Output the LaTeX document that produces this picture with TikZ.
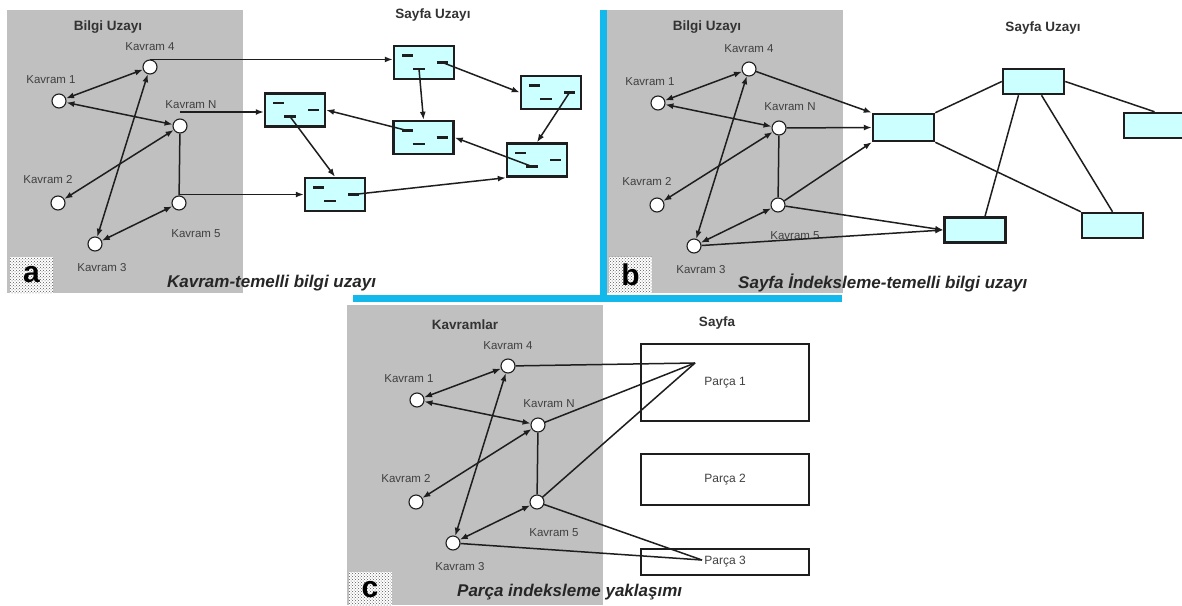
\documentclass[tikz,border=0pt]{standalone}
\usepackage{fontspec}
\setmainfont{Liberation Sans}
\usetikzlibrary{arrows.meta,patterns,positioning}

\definecolor{panelgray}{RGB}{192,192,192}
\definecolor{barcyan}{RGB}{20,185,235}
\definecolor{pagecyan}{RGB}{204,255,255}
\definecolor{ink}{RGB}{30,30,30}

\tikzset{
  kavram/.style={circle, draw=ink, fill=white, line width=1.1pt, minimum size=14pt, inner sep=0pt},
  klabel/.style={font=\fontsize{11.5}{13}\selectfont, text=black!75, inner sep=0pt},
  title/.style={font=\fontsize{13.5}{16}\selectfont\bfseries, text=black!80, inner sep=0pt},
  caption/.style={font=\fontsize{17}{20}\selectfont\bfseries\itshape, text=black!85, anchor=west, inner sep=0pt},
  letterbox/.style={fill=white, postaction={pattern=crosshatch dots, pattern color=black!65},
    minimum width=43pt, minimum height=36pt, inner sep=0pt, font=\fontsize{30}{30}\selectfont\bfseries},
  link/.style={line width=1.5pt, draw=ink},
  pagebox/.style={draw=ink, fill=pagecyan, line width=2.5pt, minimum width=60pt, minimum height=33pt, inner sep=0pt},
  smallbox/.style={draw=ink, fill=pagecyan, line width=2.5pt, minimum width=61pt, minimum height=25pt, inner sep=0pt},
  partbox/.style={draw=ink, fill=white, line width=2.3pt, minimum width=168pt, inner sep=0pt,
    font=\fontsize{12}{14}\selectfont, text=black!75},
  textline/.style={line width=2.4pt, draw=ink},
}

% the concept graph, drawn once per panel
\newcommand{\kavramgrafi}{%
  \node[kavram] (K4) at (150,67) {};
  \node[kavram] (K1) at (59,101) {};
  \node[kavram] (KN) at (180,126) {};
  \node[kavram] (K2) at (58,203) {};
  \node[kavram] (K5) at (179,203) {};
  \node[kavram] (K3) at (95,244) {};
  \node[klabel] (K4l) at ([shift={(0,-20)}]K4.center) {Kavram 4};
  \node[klabel] (K1l) at ([shift={(-8,-21)}]K1.center) {Kavram 1};
  \node[klabel] (KNl) at ([shift={(11,-21)}]KN.center) {Kavram N};
  \node[klabel] (K2l) at ([shift={(-10,-23)}]K2.center) {Kavram 2};
  \node[klabel] (K5l) at ([shift={(17,31)}]K5.center) {Kavram 5};
  \node[klabel] (K3l) at ([shift={(7,24)}]K3.center) {Kavram 3};
  \draw[link, <->] (K1) -- (K4);
  \draw[link, <->] (K1) -- (KN);
  \draw[link, <->] (K2) -- (KN);
  \draw[link, <->] (K3) -- (K4);
  \draw[link, <->] (K3) -- (K5);
  \draw[link] (KN) -- (K5);
}

\begin{document}
\begin{tikzpicture}[x=1pt, y=-1pt, >={Latex[length=8pt,width=6pt]}]
    \clip (0,0) rectangle (1182,605);
    \fill[white] (0,0) rectangle (1182,605);

    % panels and the cyan frame
    \fill[panelgray] (7,10) rectangle (243,293);
    \fill[panelgray] (607,10) rectangle (843,293);
    \fill[panelgray] (347,305) rectangle (603,605);
    \fill[barcyan] (600,10) rectangle (607,302);
    \fill[barcyan] (353,295) rectangle (842,302);

    % (a) concept-based
    \begin{scope}[name prefix=a-]
        \kavramgrafi
    \end{scope}
    \node[title] (a-title) at (108,27) {Bilgi Uzayı};
    \node[title] (a-sayfa) at (433,15) {Sayfa Uzayı};

    \node[pagebox] (P1) at (424,62.5) {};
    \node[pagebox] (P2) at (551,92.5) {};
    \node[pagebox] (P3) at (295,110) {};
    \node[pagebox] (P4) at (423.5,137.5) {};
    \node[pagebox] (P5) at (537,160) {};
    \node[pagebox] (P6) at (335,194.5) {};
    \foreach \p in {P1,P2,P3,P4,P5,P6} {
        \coordinate (\p-d1) at ([shift={(-16.5,-7)}]\p.center);
        \coordinate (\p-d2) at ([shift={(-5,6.5)}]\p.center);
        \coordinate (\p-d3) at ([shift={(18.5,0)}]\p.center);
        \draw[textline] ([shift={(-5.5,0)}]\p-d1) -- ++(11,0);
        \draw[textline] ([shift={(-6,0)}]\p-d2) -- ++(12,0);
        \draw[textline] ([shift={(-5.5,0)}]\p-d3) -- ++(11,0);
    }

    \draw[link, ->] (a-K4.north) -- (a-K4.north -| P1.west);
    \draw[link, ->] ([yshift=-2pt]a-KN.north |- P3.west) -- ([yshift=-2pt]P3.west);
    \draw[link, ->] (a-K5.north |- P6.west) -- (P6.west);
    \draw[link, ->] (P1-d3) -- (P2.west);
    \draw[link, ->] (P1-d2) -- (P4.north);
    \draw[link, ->] (P2-d3) -- (P5.north);
    \draw[link, ->] (P5-d2) -- (P4.east);
    \draw[link, ->] (P4-d1) -- (P3.east);
    \draw[link, ->] (P3-d2) -- (P6.north);
    \draw[link, ->] (P6-d3) -- (P5.south west);

    \node[letterbox] (a-harf) at (31.5,275) {a};
    \node[caption] (a-cap) at (167,283) {Kavram-temelli bilgi uzayı};

    % (b) page indexing
    \begin{scope}[shift={(599,2)}, name prefix=b-]
        \kavramgrafi
    \end{scope}
    \node[title] (b-title) at (707,27) {Bilgi Uzayı};
    \node[title] (b-sayfa) at (1043,28) {Sayfa Uzayı};

    \node[smallbox, minimum height=27pt] (S1) at (903.5,127.5) {};
    \node[smallbox] (S2) at (1033.5,81.5) {};
    \node[smallbox] (S3) at (1154.5,125.5) {};
    \node[smallbox] (S4) at (975,230) {};
    \node[smallbox] (S5) at (1112.5,225.5) {};

    \draw[link, ->] (b-K4) -- (S1.north west);
    \draw[link, ->] (b-KN) -- (S1.west);
    \draw[link, ->] (b-K5) -- (S1.south west);
    \draw[link, ->] (b-K5) -- (S4.west);
    \draw[link, ->] (b-K3) -- (S4.west);
    \draw[link] (S1.north east) -- (S2.west);
    \draw[link] (S1.south east) -- (S5.north west);
    \draw[link] (S2.east) -- (S3.north);
    \draw[link] ([xshift=-15pt]S2.south) -- ([xshift=10pt]S4.north);
    \draw[link] ([xshift=8pt]S2.south) -- (S5.north);

    \node[letterbox] (b-harf) at (630.5,274.5) {b};
    \node[caption] (b-cap) at (738,283) {Sayfa İndeksleme-temelli bilgi uzayı};

    % (c) fragment indexing
    \begin{scope}[shift={(358,299)}, name prefix=c-]
        \kavramgrafi
    \end{scope}
    \node[title] (c-title) at (465,325) {Kavramlar};
    \node[title] (c-sayfa) at (717,323) {Sayfa};

    \node[partbox, minimum height=77pt] (parca1) at (725,382.5) {Parça 1};
    \node[partbox, minimum height=51pt] (parca2) at (725,479.5) {Parça 2};
    \node[partbox, minimum height=26pt] (parca3) at (725,562) {Parça 3};
    \coordinate (hub1) at (695,363);
    \coordinate (hub3) at (702,560);

    \draw[link] (c-K4) -- (hub1);
    \draw[link] (c-KN) -- (hub1);
    \draw[link] (c-K5) -- (hub1);
    \draw[link] (c-K5) -- (hub3);
    \draw[link] (c-K3) -- (hub3);

    \node[letterbox] (c-harf) at (370,590) {c};
    \node[caption] (c-cap) at (457,592) {Parça indeksleme yaklaşımı};
\end{tikzpicture}
\end{document}
